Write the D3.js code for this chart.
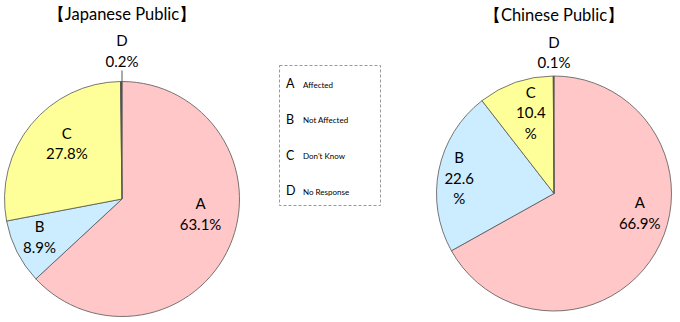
<!DOCTYPE html>
<html><head><meta charset="utf-8">
<script src="https://cdn.jsdelivr.net/npm/d3@7"></script>
<style>body{margin:0;background:#fff}svg{display:block}text{font-family:Lato,"Open Sans",sans-serif;fill:#000}</style>
</head><body>
<svg id="c" width="680" height="322"></svg>
<script>
const categories = ["A","B","C","D"];
const legendLabels = ["Affected","Not Affected","Don't Know","No Response"];
const japaneseValues = [63.1, 8.9, 27.8, 0.2];
const chineseValues = [66.9, 22.6, 10.4, 0.1];
const titles = ["【Japanese Public】","【Chinese Public】"];
const colors = ["#FFC7C7","#CCECFF","#FFFF99","#3A5A3A"];

// label placement (angle in degrees clockwise from top, distance from centre)
const jpLabelPlace = [[101,80],[245,91],[315,78],[0,148]];
const cnLabelPlace = [[103,88],[279,96],[344,84],[0,141]];
const jpLabelLines = [["A","63.1%"],["B","8.9%"],["C","27.8%"],["D","0.2%"]];
const cnLabelLines = [["A","66.9%"],["B","22.6","%"],["C","10.4","%"],["D","0.1%"]];

const svg = d3.select("#c");
const color = d3.scaleOrdinal().domain(categories).range(colors);
const pie = d3.pie().sort(null).value(d=>d.v).startAngle(0).endAngle(2*Math.PI);

function drawPie(vals, cx, cy, r, title, titleY, place, lines, leader){
  const g = svg.append("g").attr("transform",`translate(${cx},${cy})`);
  const data = categories.map((c,i)=>({c, v: vals[i]}));
  const arc = d3.arc().innerRadius(0).outerRadius(r);
  g.selectAll("path").data(pie(data)).join("path")
    .attr("d", arc).attr("fill", d=>color(d.data.c))
    .attr("stroke","#555").attr("stroke-width",0.8);
  svg.append("text").attr("x",cx).attr("y",titleY).attr("text-anchor","middle")
    .attr("font-size",16.5).text(title);
  if(leader){
    g.append("line").attr("x1",0).attr("x2",0).attr("y1",-r-11).attr("y2",-r)
      .attr("stroke","#555").attr("stroke-width",1);
  }
  categories.forEach((c,i)=>{
    const [ang, dist] = place[i];
    const a = ang*Math.PI/180;
    const x = dist*Math.sin(a), y = -dist*Math.cos(a);
    const ls = lines[i];
    const lh = 20.5;
    const y0 = y - (ls.length-1)*lh/2;
    const t = g.append("text").attr("text-anchor","middle").attr("font-size",15);
    ls.forEach((s,k)=>{
      t.append("tspan").attr("x",x).attr("y",y0+k*lh).attr("dy","0.35em").text(s);
    });
  });
}

drawPie(japaneseValues, 122, 199, 117.5, titles[0], 20, jpLabelPlace, jpLabelLines, true);
drawPie(chineseValues, 554, 193.5, 117.5, titles[1], 21, cnLabelPlace, cnLabelLines, false);

// legend
const lg = svg.append("g");
lg.append("rect").attr("x",279.5).attr("y",65.5).attr("width",101).attr("height",140)
  .attr("fill","none").attr("stroke","#999").attr("stroke-dasharray","3,2").attr("stroke-width",1);
const ly = d3.scalePoint().domain(categories).range([84,191]);
categories.forEach((c,i)=>{
  lg.append("text").attr("x",286).attr("y",ly(c)).attr("dy","0.35em").attr("font-size",12.5).text(c);
  lg.append("text").attr("x",303).attr("y",ly(c)+1).attr("dy","0.35em").attr("font-size",8).text(legendLabels[i]);
});
</script>
</body></html>
